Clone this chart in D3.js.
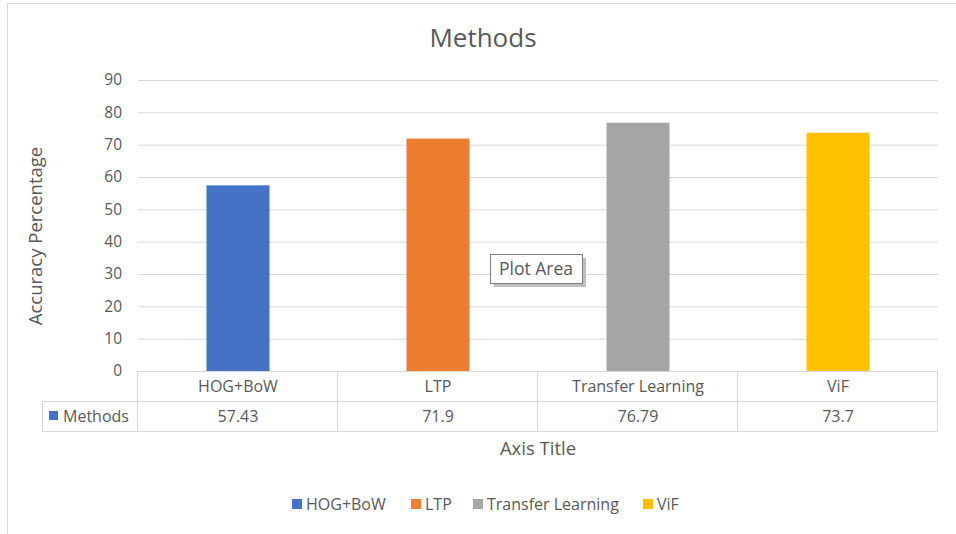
<!DOCTYPE html>
<html>
<head>
<meta charset="utf-8">
<script src="https://cdn.jsdelivr.net/npm/d3@7"></script>
<style>
  body { margin: 0; background: #fff; }
  text { font-family: "Open Sans", "Noto Sans", sans-serif; fill: #595959; }
</style>
</head>
<body>
<script>
// chart values
var categories = ["HOG+BoW", "LTP", "Transfer Learning", "ViF"];
var values = [57.43, 71.9, 76.79, 73.7];
var valueLabels = ["57.43", "71.9", "76.79", "73.7"];
var colors = ["#4472C4", "#ED7D31", "#A5A5A5", "#FFC000"];
var yTicks = [0, 10, 20, 30, 40, 50, 60, 70, 80, 90];
var seriesName = "Methods";

var width = 956, height = 534;

var svg = d3.select("body").append("svg")
    .attr("width", width)
    .attr("height", height);

// chart area border
svg.append("rect")
    .attr("x", 7.5).attr("y", 3.5)
    .attr("width", 970).attr("height", 560)
    .attr("fill", "#fff")
    .attr("stroke", "#D9D9D9");

var x = d3.scaleBand().domain(categories).range([138, 938]);
var y = d3.scaleLinear().domain([0, 90]).range([371, 80]);

// title
svg.append("text")
    .attr("x", 483).attr("y", 47)
    .attr("text-anchor", "middle")
    .attr("font-size", "26px")
    .text("Methods");

// gridlines and y ticks
var yAxis = svg.append("g")
    .attr("transform", "translate(138,0)")
    .call(d3.axisLeft(y).tickValues(yTicks).tickSize(-800).tickPadding(16));
yAxis.select(".domain").remove();
yAxis.selectAll("line").attr("stroke", "#D9D9D9");
yAxis.selectAll("text")
    .attr("font-size", "15.5px")
    .style("font-family", "'Open Sans', sans-serif")
    .attr("fill", "#595959");

// y axis title
svg.append("text")
    .attr("transform", "translate(42,236) rotate(-90)")
    .attr("text-anchor", "middle")
    .attr("font-size", "18.5px")
    .text("Accuracy Percentage");

// bars
var barW = x.bandwidth() * 0.315;
svg.append("g").selectAll("rect")
    .data(values)
    .enter().append("rect")
    .attr("x", (d, i) => x(categories[i]) + x.bandwidth() / 2 - barW / 2)
    .attr("y", d => y(d))
    .attr("width", barW)
    .attr("height", d => y(0) - y(d))
    .attr("fill", (d, i) => colors[i]);

// data table
var tbl = svg.append("g").attr("stroke", "#D9D9D9").attr("stroke-width", 1);
var rowTop = y(0), rowMid = rowTop + 30, rowBot = rowTop + 60;
tbl.append("line").attr("x1", 138).attr("x2", 938).attr("y1", rowTop + 0.5).attr("y2", rowTop + 0.5);
tbl.append("line").attr("x1", 42).attr("x2", 938).attr("y1", rowMid + 0.5).attr("y2", rowMid + 0.5);
tbl.append("line").attr("x1", 42).attr("x2", 938).attr("y1", rowBot + 0.5).attr("y2", rowBot + 0.5);
tbl.append("line").attr("x1", 42.5).attr("x2", 42.5).attr("y1", rowMid).attr("y2", rowBot);
tbl.selectAll(".vl")
    .data(categories.map(c => x(c)).concat([938]))
    .enter().append("line")
    .attr("x1", d => Math.round(d) - 0.5).attr("x2", d => Math.round(d) - 0.5)
    .attr("y1", rowTop).attr("y2", rowBot);

svg.append("g").selectAll("text")
    .data(categories)
    .enter().append("text")
    .attr("x", d => x(d) + x.bandwidth() / 2)
    .attr("y", rowTop + 21)
    .attr("text-anchor", "middle")
    .attr("font-size", "16px")
    .text(d => d);

svg.append("g").selectAll("text")
    .data(valueLabels)
    .enter().append("text")
    .attr("x", (d, i) => x(categories[i]) + x.bandwidth() / 2)
    .attr("y", rowMid + 21)
    .attr("text-anchor", "middle")
    .attr("font-size", "16px")
    .text(d => d);

svg.append("rect")
    .attr("x", 49).attr("y", rowMid + 10)
    .attr("width", 9).attr("height", 9)
    .attr("fill", colors[0]);
svg.append("text")
    .attr("x", 63).attr("y", rowMid + 21)
    .attr("font-size", "16px")
    .text(seriesName);

// x axis title
svg.append("text")
    .attr("x", 538).attr("y", 455)
    .attr("text-anchor", "middle")
    .attr("font-size", "18.5px")
    .text("Axis Title");

// legend
var legendX = [292, 411, 473, 643];
var lg = svg.append("g").selectAll("g")
    .data(categories)
    .enter().append("g")
    .attr("transform", (d, i) => "translate(" + legendX[i] + ",499)");
lg.append("rect")
    .attr("width", 10).attr("height", 10)
    .attr("fill", (d, i) => colors[i]);
lg.append("text")
    .attr("x", 14).attr("y", 11)
    .attr("font-size", "16px")
    .text(d => d);

// "Plot Area" hover tip
var tip = svg.append("g").attr("transform", "translate(490,254)");
tip.append("rect")
    .attr("x", 4).attr("y", 4)
    .attr("width", 92).attr("height", 29)
    .attr("fill", "#BFBFBF");
tip.append("rect")
    .attr("x", 0.5).attr("y", 0.5)
    .attr("width", 92).attr("height", 29)
    .attr("fill", "#fff")
    .attr("stroke", "#7F7F7F");
tip.append("text")
    .attr("x", 46).attr("y", 21)
    .attr("text-anchor", "middle")
    .attr("font-size", "17.5px")
    .text("Plot Area");
</script>
</body>
</html>
